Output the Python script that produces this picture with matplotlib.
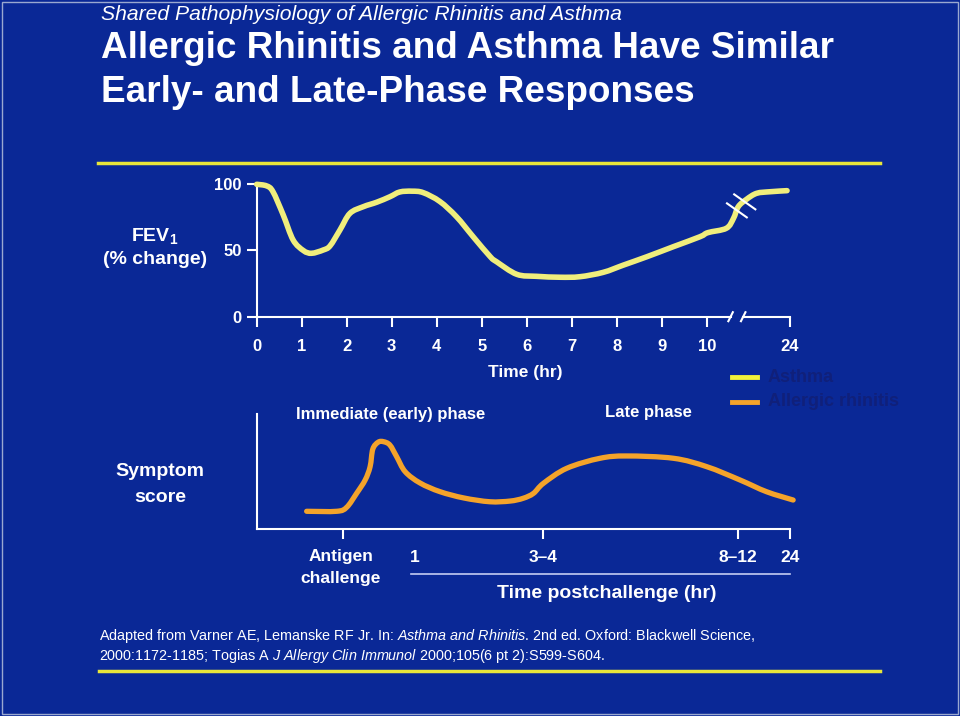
import numpy as np
import matplotlib
matplotlib.use('Agg')
import matplotlib.pyplot as plt
from matplotlib.lines import Line2D
from matplotlib.patches import Rectangle, PathPatch
from matplotlib.path import Path
import matplotlib.transforms as mtransforms

plt.rcParams['font.family'] = ['Liberation Sans', 'DejaVu Sans']
plt.rcParams['mathtext.fontset'] = 'custom'
plt.rcParams['mathtext.rm'] = 'Liberation Sans'
plt.rcParams['mathtext.it'] = 'Liberation Sans:italic'
plt.rcParams['mathtext.bf'] = 'Liberation Sans:bold'

BG = '#0A2896'
WHITE = 'white'
ASTHMA_C = '#F0EE7C'
RHIN_C = '#F4A32A'
RULE_C = '#E9E63A'
LEG_TEXT = '#10207A'

# FEV1 (% change) for asthma, real hours after challenge
asthma_hours = [0.0, 0.22, 0.36, 0.59, 0.81, 1.04, 1.22, 1.48, 1.63, 1.85, 2.07, 2.37, 2.67,
                2.96, 3.18, 3.45, 3.7, 4.07, 4.44, 4.81, 5.19, 5.33, 5.78, 6.22, 6.74,
                7.18, 7.7, 8.15, 8.67, 9.26, 9.85, 10.2, 13.3, 14.5, 15.3, 16.7, 18.4, 20.7, 23.5]
asthma_fev1 = [100, 98.8, 94.5, 76.8, 57.9, 49.9, 47.9, 50.4, 53.5, 65.5, 78, 83.1, 86.5,
               90.6, 94.2, 94.8, 93.7, 87.0, 75.5, 60.4, 45.3, 41.5, 32.0, 30.5, 29.8,
               30.2, 33.5, 39, 45.3, 52.9, 60.4, 63.5, 66.8, 74.3, 83.1, 88.7, 93.2, 94.4, 95.2]
hour_ticks = [0, 1, 2, 3, 4, 5, 6, 7, 8, 9, 10, 24]
fev_ticks = [0, 50, 100]

# symptom score for allergic rhinitis, position along the postchallenge axis
rhin_pos = [1.11, 1.78, 2.0, 2.22, 2.41, 2.52, 2.58, 2.70, 2.82, 2.96, 3.11, 3.30, 3.63,
            4.07, 4.6, 5.18, 5.63, 5.92, 6.15, 6.37, 6.89, 7.63, 8.22, 9.26, 10.0, 10.74,
            11.33, 11.92]
rhin_score = [15.4, 15.4, 18.9, 31, 42.6, 54.2, 69.5, 75.5, 75.9, 73.0, 62.9, 49.8, 40.0,
              32.5, 27, 23.7, 24.3, 26.7, 31, 39.7, 52.8, 61.5, 63.5, 61.5, 54.2, 42.6,
              32.4, 25.2]
post_tick_pos = [1.91, 6.37, 10.7, 11.85]
post_labels = ['1', '3\u20134', '8\u201312', '24']
post_label_pos = [3.52, 6.37, 10.7, 11.85]

BREAK = 10
SQUEEZE = 1.85 / 14  # 10..24 h squeezed after the axis break


def xpos(t):
    t = np.asarray(t, float)
    return np.where(t <= BREAK, t, BREAK + (t - BREAK) * SQUEEZE)


def fx(x):
    return x / 960


def fy(y):
    return 1 - y / 716


def smooth_line(ax, x, y, **kw):
    # catmull-rom through the points, drawn as bezier path in display space
    pts = ax.transData.transform(np.column_stack([x, y]))
    p = np.vstack([pts[0], pts, pts[-1]])
    verts = [pts[0]]
    codes = [Path.MOVETO]
    for i in range(1, len(p) - 2):
        c1 = p[i] + (p[i + 1] - p[i - 1]) / 6
        c2 = p[i + 1] - (p[i + 2] - p[i]) / 6
        verts += [c1, c2, p[i + 1]]
        codes += [Path.CURVE4] * 3
    patch = PathPatch(Path(verts, codes), transform=mtransforms.IdentityTransform(),
                      fill=False, capstyle='round', joinstyle='round', **kw)
    patch.set_clip_on(False)
    ax.add_artist(patch)


fig = plt.figure(figsize=(9.6, 7.16), dpi=100, facecolor=BG)

# header
fig.text(fx(101), fy(14), 'Shared Pathophysiology of Allergic Rhinitis and Asthma',
         color=WHITE, fontsize=15.2, style='italic', va='center')
fig.text(fx(101), fy(48), 'Allergic Rhinitis and Asthma Have Similar',
         color=WHITE, fontsize=26.6, weight='bold', va='center')
fig.text(fx(101), fy(93), 'Early- and Late-Phase Responses',
         color=WHITE, fontsize=26.6, weight='bold', va='center')
fig.add_artist(Line2D([fx(98), fx(880)], [fy(163), fy(163)], color=RULE_C, lw=2.5))
fig.add_artist(Line2D([fx(99), fx(880)], [fy(671), fy(671)], color=RULE_C, lw=2.5))
fig.add_artist(Rectangle((fx(2), fy(714)), fx(956), 712 / 716, transform=fig.transFigure,
                         fill=False, edgecolor='#9AA8D0', lw=1))

# top panel: FEV1
ax1 = fig.add_axes([fx(256.7), fy(316.7), fx(790 - 256.7), (316.7 - 184.3) / 716])
ax1.set_facecolor('none')
ax1.set_xlim(0, 11.85)
ax1.set_ylim(0, 100)
smooth_line(ax1, xpos(asthma_hours), asthma_fev1, edgecolor=ASTHMA_C, lw=4.0, zorder=3)
ax1.set_xticks(xpos(hour_ticks))
ax1.set_xticklabels([str(h) for h in hour_ticks])
ax1.set_yticks(fev_ticks)
ax1.set_yticklabels([str(v) for v in fev_ticks])
for s in ['top', 'right']:
    ax1.spines[s].set_visible(False)
for s in ['left', 'bottom']:
    ax1.spines[s].set_color(WHITE)
    ax1.spines[s].set_linewidth(1.5)
ax1.spines['bottom'].set_bounds(0, 10.53)
ax1.plot([10.81, 11.85], [0, 0], color=WHITE, lw=1.5, clip_on=False)
for bx in [10.53, 10.81]:
    ax1.plot([bx - 0.05, bx + 0.05], [-3.4, 3.4], color=WHITE, lw=1.5, clip_on=False)
# break marks on the curve
ax1.plot([10.61, 11.08], [92.4, 81.1], color=WHITE, lw=1.5, zorder=4, clip_on=False)
ax1.plot([10.45, 10.89], [85.6, 75.0], color=WHITE, lw=1.5, zorder=4, clip_on=False)
ax1.tick_params(colors=WHITE, direction='out', length=7, width=1.5, labelsize=12, pad=9)
ax1.tick_params(axis='y', pad=4)
for lab in ax1.get_xticklabels() + ax1.get_yticklabels():
    lab.set_fontweight('bold')

fig.text(fx(155), fy(236), r'$\mathbf{FEV_1}$', color=WHITE, fontsize=14, ha='center', va='center')
fig.text(fx(155), fy(260), '(% change)', color=WHITE, fontsize=14, weight='bold',
         ha='center', va='center')
fig.text(fx(525), fy(373), 'Time (hr)', color=WHITE, fontsize=12.5, weight='bold',
         ha='center', va='center')
fig.text(fx(391), fy(414), 'Immediate (early) phase', color=WHITE, fontsize=12, weight='bold',
         ha='center', va='center')
fig.text(fx(648), fy(412), 'Late phase', color=WHITE, fontsize=12, weight='bold',
         ha='center', va='center')

# legend
fig.add_artist(Line2D([fx(732), fx(757)], [fy(376.5), fy(376.5)], color='#F2F23A', lw=3.5))
fig.add_artist(Line2D([fx(732), fx(757)], [fy(401.5), fy(401.5)], color=RHIN_C, lw=3.5))
fig.text(fx(768), fy(378), 'Asthma', color=LEG_TEXT, fontsize=13, weight='bold', va='center')
fig.text(fx(768), fy(401), 'Allergic rhinitis', color=LEG_TEXT, fontsize=13, weight='bold',
         va='center')

# bottom panel: symptom score
ax2 = fig.add_axes([fx(256.7), fy(529), fx(790 - 256.7), 115 / 716])
ax2.set_facecolor('none')
ax2.set_xlim(0, 11.85)
ax2.set_ylim(0, 100)
smooth_line(ax2, rhin_pos, rhin_score, edgecolor=RHIN_C, lw=3.8, zorder=3)
ax2.set_xticks(post_tick_pos)
ax2.set_xticklabels([])
ax2.set_yticks([])
for s in ['top', 'right']:
    ax2.spines[s].set_visible(False)
for s in ['left', 'bottom']:
    ax2.spines[s].set_color(WHITE)
    ax2.spines[s].set_linewidth(1.5)
ax2.tick_params(colors=WHITE, direction='out', length=7, width=1.5)

xtrans = ax2.get_xaxis_transform()
for p, lab in zip(post_label_pos, post_labels):
    ax2.annotate(lab, xy=(p, 0), xycoords=xtrans, xytext=(0, -28), textcoords='offset pixels',
                 color=WHITE, fontsize=12.5, weight='bold', ha='center', va='center')
ax2.annotate('Antigen', xy=(post_tick_pos[0], 0), xycoords=xtrans, xytext=(-2, -28),
             textcoords='offset pixels', color=WHITE, fontsize=12.5, weight='bold',
             ha='center', va='center')
ax2.annotate('challenge', xy=(post_tick_pos[0], 0), xycoords=xtrans, xytext=(-2, -49),
             textcoords='offset pixels', color=WHITE, fontsize=12.5, weight='bold',
             ha='center', va='center')
under = xtrans + mtransforms.ScaledTranslation(0, -45 / 100, fig.dpi_scale_trans)
ax2.plot([3.42, 11.85], [0, 0], transform=under, color='#C4CCF2', lw=1.2, clip_on=False)

fig.text(fx(607), fy(593), 'Time postchallenge (hr)', color=WHITE, fontsize=14, weight='bold',
         ha='center', va='center')
fig.text(fx(160), fy(472), 'Symptom', color=WHITE, fontsize=14, weight='bold',
         ha='center', va='center')
fig.text(fx(160), fy(498), 'score', color=WHITE, fontsize=14, weight='bold',
         ha='center', va='center')

# footer
fig.text(fx(99), fy(640),
         r'Adapted from Varner AE, Lemanske RF Jr. In: $\mathit{Asthma\ and\ Rhinitis}$. '
         r'2nd ed. Oxford: Blackwell Science,', color=WHITE, fontsize=10.4, va='baseline')
fig.text(fx(99), fy(660),
         r'2000:1172-1185; Togias A $\mathit{J\ Allergy\ Clin\ Immunol}$ '
         r'2000;105(6 pt 2):S599-S604.', color=WHITE, fontsize=10.4, va='baseline')

fig.savefig('out.png', dpi=100, facecolor=BG)
